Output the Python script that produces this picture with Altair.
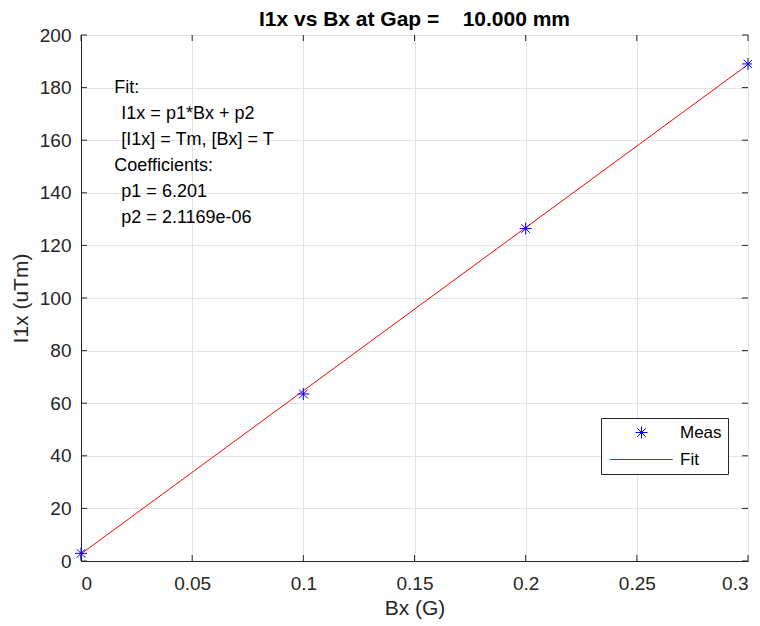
import altair as alt
import pandas as pd

# Data
bx_meas = [0.0, 0.1, 0.2, 0.3]
i1x_meas = [2.9, 63.5, 126.4, 189.0]
bx_fit = [0.0, 0.3]
i1x_fit = [2.7, 188.8]
series = ["Meas", "Fit"]
annot_lines = ["Fit:", "I1x = p1*Bx + p2", "[I1x] = Tm, [Bx] = T",
               "Coefficients:", "p1 = 6.201", "p2 = 2.1169e-06"]
annot_indent = [False, True, True, False, True, True]
x_ticks = [0, 0.05, 0.1, 0.15, 0.2, 0.25, 0.3]
y_ticks = list(range(0, 201, 20))
title_text = "I1x vs Bx at Gap =\u00a0\u00a0\u00a0\u00a010.000 mm"

FONT = "Liberation Sans"
TXT = "#262626"
PLOT_W = 667
PLOT_H = 526
TICK = 6
LINE_STEP = 26 * 200 / PLOT_H  # 26 px line spacing in data units

meas_df = pd.DataFrame({"Bx": bx_meas, "I1x": i1x_meas, "series": "Meas"})
fit_df = pd.DataFrame({"Bx": bx_fit, "I1x": i1x_fit})
annot_df = pd.DataFrame({
    "t": annot_lines,
    "indent": annot_indent,
    "y": [179.8 - i * LINE_STEP for i in range(len(annot_lines))],
})
xt_df = pd.DataFrame({"Bx": x_ticks})
yt_df = pd.DataFrame({"I1x": y_ticks})

star = "M-1,0L1,0M0,-1L0,1M-0.72,-0.72L0.72,0.72M-0.72,0.72L0.72,-0.72"
linepath = "M-5.2,0L5.2,0"

xenc = alt.X("Bx:Q", scale=alt.Scale(domain=[0, 0.3], nice=False),
             axis=alt.Axis(values=x_ticks, format="~g", title="Bx (G)",
                           labelPadding=13, titlePadding=4))
yenc = alt.Y("I1x:Q", scale=alt.Scale(domain=[0, 200], nice=False),
             axis=alt.Axis(values=y_ticks, title="I1x (uTm)",
                           labelPadding=10, titlePadding=8))

fit = alt.Chart(fit_df).mark_line(color="#ff0000", strokeWidth=1).encode(x=xenc, y=yenc)

pts = alt.Chart(meas_df).mark_point(filled=False, size=144, strokeWidth=1, opacity=1).encode(
    x="Bx:Q", y="I1x:Q",
    color=alt.Color("series:N", scale=alt.Scale(domain=series, range=["#0000ff", "#ff0000"]),
                    legend=alt.Legend(title=None)),
    shape=alt.Shape("series:N", scale=alt.Scale(domain=series, range=[star, linepath]),
                    legend=alt.Legend(title=None)),
)

# inward tick marks on all four sides (MATLAB box style)
tick_style = dict(color=TXT, strokeWidth=1)
xt_bot = alt.Chart(xt_df).mark_rule(**tick_style).encode(
    x="Bx:Q", y=alt.value(PLOT_H), y2=alt.value(PLOT_H - TICK))
xt_top = alt.Chart(xt_df).mark_rule(**tick_style).encode(
    x="Bx:Q", y=alt.value(0), y2=alt.value(TICK))
yt_left = alt.Chart(yt_df).mark_rule(**tick_style).encode(
    y="I1x:Q", x=alt.value(0), x2=alt.value(TICK))
yt_right = alt.Chart(yt_df).mark_rule(**tick_style).encode(
    y="I1x:Q", x=alt.value(PLOT_W), x2=alt.value(PLOT_W - TICK))

annot_style = dict(align="left", baseline="middle", fontSize=18, font=FONT, color="#000000")
head = alt.Chart(annot_df).transform_filter("!datum.indent").mark_text(**annot_style).encode(
    x=alt.datum(0.015), y="y:Q", text="t:N")
body = alt.Chart(annot_df).transform_filter("datum.indent").mark_text(dx=7, **annot_style).encode(
    x=alt.datum(0.015), y="y:Q", text="t:N")

chart = alt.layer(fit, xt_bot, xt_top, yt_left, yt_right, pts, head, body).properties(
    width=PLOT_W, height=PLOT_H,
    title=alt.Title(title_text, fontSize=21, font=FONT, fontWeight="bold", color="#000000",
                    anchor="middle", offset=-4),
    autosize="none",
    padding={"left": 73, "top": 27, "right": 4, "bottom": 64},
).configure_view(
    stroke=TXT, strokeWidth=1
).configure_axis(
    grid=True, gridColor="#e3e3e3", gridWidth=1,
    domainColor=TXT, domainWidth=1, ticks=False,
    labelFont=FONT, labelFontSize=19, labelColor=TXT,
    titleFont=FONT, titleFontSize=21, titleColor=TXT, titleFontWeight="normal",
).configure_legend(
    orient="none", legendX=520, legendY=383,
    fillColor="#ffffff", strokeColor=TXT, strokeWidth=1, padding=6,
    symbolOffset=26, symbolSize=144, symbolStrokeWidth=1, labelOffset=30,
    labelFont=FONT, labelFontSize=17, labelColor="#000000", rowPadding=9,
)

chart.save("out.html", embed_options={"renderer": "svg", "actions": False})
